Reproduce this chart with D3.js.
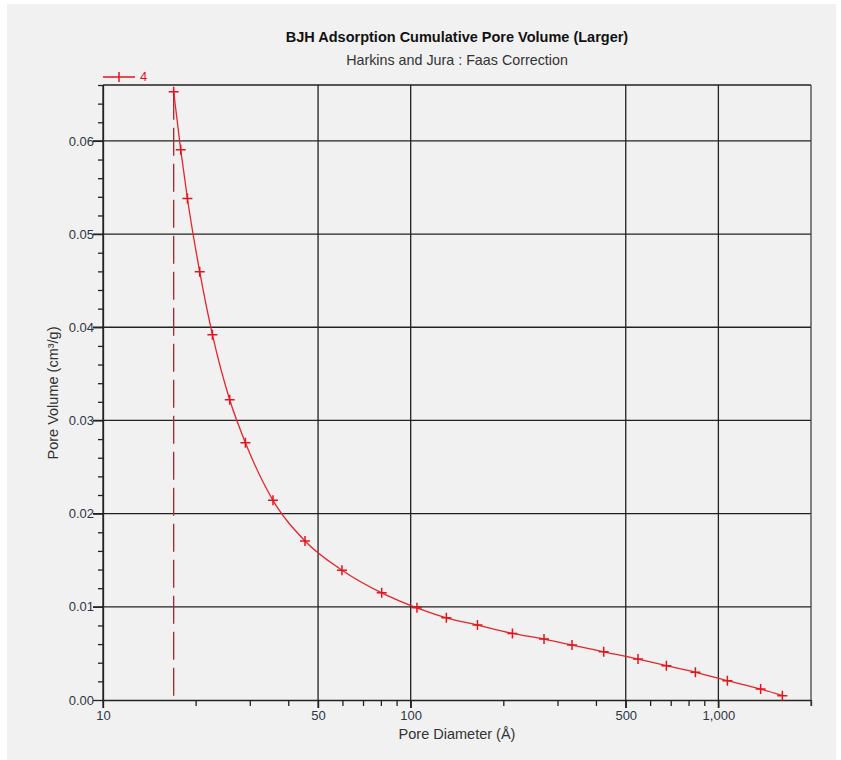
<!DOCTYPE html>
<html>
<head>
<meta charset="utf-8">
<script src="https://cdn.jsdelivr.net/npm/d3@7"></script>
<style>
  body { margin: 0; background: #fff; }
  svg { display: block; font-family: "Liberation Sans", Arial, sans-serif; }
</style>
</head>
<body>
<div id="chart"></div>
<script>
// values
var diameters = [16.97, 17.89, 18.81, 20.62, 22.68, 25.81, 29.03, 35.68, 45.34, 59.79, 80.5,
  104.8, 130.6, 164.8, 214.1, 271.2, 334.5, 424, 548, 677.6, 842, 1069.8, 1372, 1614];
var volumes = [0.06528, 0.05904, 0.05382, 0.04596, 0.03921, 0.03222, 0.02761, 0.02143, 0.01707,
  0.01393, 0.01150, 0.00989, 0.00882, 0.00804, 0.00715, 0.00654, 0.00589, 0.00517, 0.00439,
  0.00368, 0.00297, 0.00207, 0.00118, 0.00046];
var xMajor = [10, 50, 100, 500, 1000];
var xMinor = [20, 30, 40, 60, 70, 80, 90, 200, 300, 400, 600, 700, 800, 900, 2000];
var yMajor = [0, 0.01, 0.02, 0.03, 0.04, 0.05, 0.06];
var cutoff = 16.97;

var W = 841, H = 760;
var margin = {top: 85, right: 30, bottom: 60, left: 103};
var width = 811 - margin.left, height = 700 - margin.top;

var svg = d3.select("#chart").append("svg")
  .attr("width", W).attr("height", H);

svg.append("rect")
  .attr("x", 7).attr("y", 4).attr("width", 829).attr("height", 756)
  .attr("fill", "#f1f1f1");

var x = d3.scaleLog().domain([10, 2000]).range([0, width]);
var y = d3.scaleLinear().domain([0, 0.066]).range([height, 0]);

var g = svg.append("g").attr("transform", "translate(" + margin.left + "," + margin.top + ")");

// grid
g.selectAll(".hgrid").data(yMajor.filter(function(v) { return v > 0; }))
  .enter().append("line")
  .attr("x1", -10).attr("x2", width)
  .attr("y1", function(d) { return y(d); }).attr("y2", function(d) { return y(d); })
  .attr("stroke", "#222").attr("stroke-width", 1.3);

g.selectAll(".vgrid").data(xMajor.filter(function(v) { return v > 10; }))
  .enter().append("line")
  .attr("x1", function(d) { return x(d); }).attr("x2", function(d) { return x(d); })
  .attr("y1", 0).attr("y2", height + 8)
  .attr("stroke", "#222").attr("stroke-width", 1.3);

// y axis
var yAxis = d3.axisLeft(y).tickValues(d3.range(0, 0.0661, 0.002))
  .tickFormat(function(d) {
    var r = Math.round(d * 1000);
    return r % 10 === 0 ? d3.format(".2f")(d) : "";
  })
  .tickSize(5).tickSizeOuter(0);
var ya = g.append("g").call(yAxis);
ya.selectAll(".tick line")
  .attr("x2", function(d) { return Math.round(d * 1000) % 10 === 0 ? -10 : -5; });
ya.selectAll("text").attr("x", -9).attr("font-size", 13).attr("fill", "#2e3545");

// x axis
var xa = g.append("g").attr("transform", "translate(0," + height + ")")
  .call(d3.axisBottom(x).tickValues(xMajor.concat(xMinor))
    .tickFormat(function(d) { return xMajor.indexOf(d) >= 0 ? d3.format(",")(d) : ""; })
    .tickSize(6).tickSizeOuter(0));
xa.selectAll(".tick line")
  .attr("y2", function(d) { return xMajor.indexOf(d) >= 0 ? 8 : 6; });
xa.selectAll("text").attr("y", 11).attr("font-size", 13).attr("fill", "#2e3545");
xa.selectAll(".domain, .tick line").attr("stroke", "#222").attr("stroke-width", 1.3);
ya.selectAll(".domain, .tick line").attr("stroke", "#222").attr("stroke-width", 1.3);

// frame top and right
g.append("line").attr("x1", 0).attr("x2", width).attr("y1", 0).attr("y2", 0)
  .attr("stroke", "#222").attr("stroke-width", 1.3);
g.append("line").attr("x1", width).attr("x2", width).attr("y1", 0).attr("y2", height + 6)
  .attr("stroke", "#444").attr("stroke-width", 1.3);
g.append("line").attr("x1", 0).attr("x2", 0).attr("y1", 0).attr("y2", height + 8)
  .attr("stroke", "#222").attr("stroke-width", 1.3);

// cutoff dashed line
g.append("line")
  .attr("x1", x(cutoff)).attr("x2", x(cutoff))
  .attr("y1", y(volumes[0])).attr("y2", height)
  .attr("stroke", "#a3282c").attr("stroke-width", 1.3)
  .attr("stroke-dasharray", "28,8");

// curve
var pts = diameters.map(function(d, i) { return [d, volumes[i]]; });
var line = d3.line()
  .x(function(d) { return x(d[0]); })
  .y(function(d) { return y(d[1]); })
  .curve(d3.curveMonotoneX);
g.append("path").datum(pts)
  .attr("d", line).attr("fill", "none")
  .attr("stroke", "#e8232b").attr("stroke-width", 1.3);

g.selectAll(".pt").data(pts).enter().append("path")
  .attr("transform", function(d) { return "translate(" + x(d[0]) + "," + y(d[1]) + ")"; })
  .attr("d", "M-5,0H5M0,-5V5")
  .attr("stroke", "#e4141c").attr("stroke-width", 1.5).attr("fill", "none");

// legend
svg.append("line").attr("x1", 103).attr("x2", 135).attr("y1", 77).attr("y2", 77)
  .attr("stroke", "#e4141c").attr("stroke-width", 1.5);
svg.append("path").attr("d", "M119,72V82").attr("stroke", "#e4141c").attr("stroke-width", 1.5);
svg.append("text").attr("x", 140).attr("y", 81).text("4")
  .attr("font-size", 13).attr("fill", "#e4141c");

// titles
svg.append("text").attr("x", 457).attr("y", 42).attr("text-anchor", "middle")
  .attr("font-size", 14.5).attr("font-weight", "bold").attr("fill", "#111")
  .text("BJH Adsorption Cumulative Pore Volume (Larger)");
svg.append("text").attr("x", 457).attr("y", 65).attr("text-anchor", "middle")
  .attr("font-size", 14.3).attr("fill", "#333")
  .text("Harkins and Jura : Faas Correction");
svg.append("text").attr("x", 457).attr("y", 739).attr("text-anchor", "middle")
  .attr("font-size", 14.5).attr("fill", "#333")
  .text("Pore Diameter (Å)");
svg.append("text")
  .attr("transform", "translate(58,393) rotate(-90)")
  .attr("text-anchor", "middle")
  .attr("font-size", 14.5).attr("fill", "#333")
  .text("Pore Volume (cm³/g)");
</script>
</body>
</html>
